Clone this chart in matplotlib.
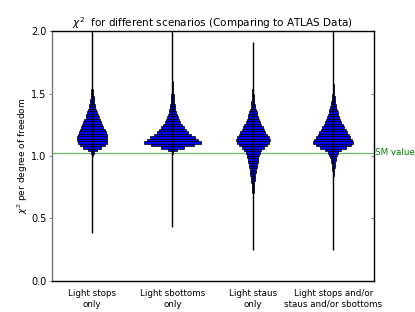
import numpy as np
import matplotlib
matplotlib.use("Agg")
import matplotlib.pyplot as plt

categories = ["Light stops\nonly", "Light sbottoms\nonly", "Light staus\nonly",
              "Light stops and/or\nstaus and/or sbottoms"]
positions = [0.5, 1.5, 2.5, 3.5]
bin_edges = np.round(np.arange(0.70, 1.6001, 0.02), 4)
mins = [0.38, 0.43, 0.25, 0.25]
maxs = [2.0, 2.0, 1.91, 2.0]
sm_value = 1.025
yticks = [0.0, 0.5, 1.0, 1.5, 2.0]
ytick_labels = ["0.0", "0.5", "1.0", "1.5", "2.0"]

counts_stops = [0, 0, 0, 0, 0, 0, 0, 0, 0, 0, 0, 0, 0, 0, 2, 5, 15, 45, 90, 125,
                145, 150, 150, 145, 135, 125, 110, 100, 88, 76, 65, 56, 48, 40, 33,
                28, 23, 19, 15, 12, 9, 6, 4, 3, 2]
counts_sbottoms = [0, 0, 0, 0, 0, 0, 0, 0, 0, 0, 0, 0, 0, 0, 0, 0, 2, 40, 110, 210,
                   285, 250, 220, 185, 155, 130, 110, 90, 75, 62, 52, 43, 36, 30, 26,
                   22, 19, 16, 13, 11, 8, 6, 4, 3, 2]
counts_staus = [8, 9, 10, 12, 14, 18, 20, 25, 28, 33, 38, 42, 46, 50, 55, 62, 72, 85,
                110, 137, 160, 170, 160, 140, 125, 110, 97, 85, 70, 60, 50, 44, 38, 30,
                22, 18, 15, 12, 9, 7, 5, 4, 3, 2, 2]
counts_all = [0, 0, 0, 0, 0, 0, 0, 3, 6, 10, 13, 16, 19, 24, 30, 38, 50, 80, 130, 175,
              200, 190, 170, 155, 138, 125, 108, 93, 80, 68, 58, 50, 43, 38, 30, 24,
              20, 16, 12, 9, 7, 5, 4, 3, 2]
all_counts = [counts_stops, counts_sbottoms, counts_staus, counts_all]

fig = plt.figure(figsize=(4.15, 3.12), dpi=100)
ax = fig.add_axes([0.125, 0.1, 0.775, 0.8])

scale = 0.00125
centers = (bin_edges[:-1] + bin_edges[1:]) / 2
heights = np.diff(bin_edges)
for pos, cnt, lo, hi in zip(positions, all_counts, mins, maxs):
    cnt = np.asarray(cnt, dtype=float)
    hw = cnt * scale
    m = cnt > 0
    ax.barh(centers[m], 2 * hw[m], left=pos - hw[m], height=heights[m],
            color="blue", edgecolor="black", linewidth=0.5, zorder=2)
    ax.vlines(pos, lo, hi, color="black", linewidth=1.0, zorder=3)

ax.axhline(sm_value, color="green", alpha=0.55, linewidth=1.0, zorder=1)
ax.text(4.02, sm_value, "SM value", color="green", fontsize=6.3, va="center",
        ha="left", transform=ax.transData, clip_on=False)

ax.set_xlim(0, 4)
ax.set_ylim(0, 2.0)
ax.set_xticks(positions)
ax.set_xticklabels(categories, fontsize=6.3)
ax.tick_params(axis="x", length=0, pad=6)
ax.set_yticks(yticks)
ax.set_yticklabels(ytick_labels, fontsize=7)
ax.tick_params(axis="y", direction="out", length=2.5, width=0.6, color="#777777", pad=1.5)

sec = ax.secondary_yaxis("right")
sec.set_yticks(yticks)
sec.tick_params(axis="y", direction="in", length=2.5, width=0.6, color="#777777",
                labelright=False)
sec.spines["right"].set_visible(False)

ax.set_ylabel(r"$\chi^2$ per degree of freedom", fontsize=6.5, labelpad=1)
ax.set_title(r"$\chi^2$  for different scenarios (Comparing to ATLAS Data)", fontsize=7.5, pad=3)
for s in ax.spines.values():
    s.set_linewidth(1.0)
ax.spines["left"].set_color("#777777")

fig.savefig("out.png", dpi=100)
